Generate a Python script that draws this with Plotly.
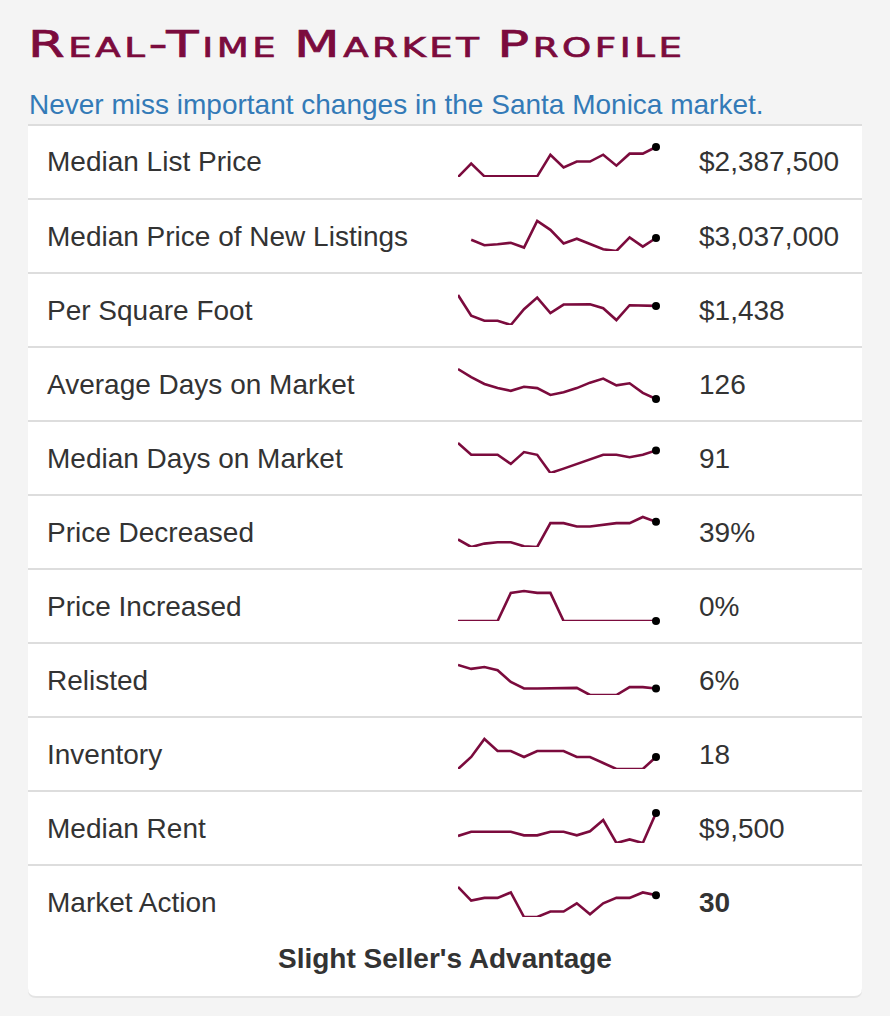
import plotly.graph_objects as go

W, H = 890, 1016

metrics = [
    "Median List Price",
    "Median Price of New Listings",
    "Per Square Foot",
    "Average Days on Market",
    "Median Days on Market",
    "Price Decreased",
    "Price Increased",
    "Relisted",
    "Inventory",
    "Median Rent",
    "Market Action",
]
current_values = [
    "$2,387,500", "$3,037,000", "$1,438", "126", "91", "39%",
    "0%", "6%", "18", "$9,500", "<b>30</b>",
]
weeks = list(range(16))

median_list_price = [1949000, 2145000, 1959000, 1959000, 1959000, 1959000, 1959000, 2275000,
                     2089000, 2175000, 2175000, 2275000, 2115000, 2290000, 2290000, 2387500]
median_new_listings = [None, 2997000, 2869000, 2893000, 2925000, 2813000, 3437000, 3229000,
                       2909000, 3021000, 2893000, 2773000, 2733000, 3053000, 2837000, 3037000]
per_sqft = [1504, 1378, 1348, 1348, 1322, 1418, 1488, 1394, 1446, 1448, 1448, 1424, 1352, 1442, 1442, 1438]
avg_dom = [170, 158, 148, 142, 138, 144, 142, 132, 136, 142, 150, 156, 146, 149, 135, 126]
median_dom = [102, 84.5, 84.5, 84.5, 71, 88.5, 84.5, 57.5, 64, 70.5, 77.5, 84.5, 84.5, 81, 84.5, 91]
price_decreased = [26, 20.5, 23, 24, 24, 21, 20.5, 38, 38, 35.5, 35.5, 37, 38, 38, 42.5, 39]
price_increased = [0, 0, 0, 0, 3.0, 3.2, 3.0, 3.0, 0, 0, 0, 0, 0, 0, 0, 0]
relisted = [9.6, 9.0, 9.3, 8.8, 7.0, 6.0, 6, 6, 6, 6.1, 5, 5, 5, 6.2, 6.2, 6]
inventory = [16, 18, 21, 19, 19, 18, 19, 19, 19, 18, 18, 17, 16, 16, 16, 18]
median_rent = [7550, 7900, 7900, 7900, 7900, 7600, 7600, 7900, 7900, 7600, 7950, 8900, 6950, 7250, 6950, 9500]
market_action = [33, 28, 29, 29, 31, 22, 22, 24, 24, 27, 23, 27, 29, 29, 31, 30]

series = [median_list_price, median_new_listings, per_sqft, avg_dom, median_dom,
          price_decreased, price_increased, relisted, inventory, median_rent, market_action]

LINE = "#7b0b3d"
TEXT = "#333333"
FONT = "Liberation Sans, Arial, sans-serif"
BG = "#f4f4f4"
TITLE = "Real-Time Market Profile"


def px(x):
    return x / W


def py(y):
    return 1 - y / H


fig = go.Figure()
axes = {}
annotations = []

for i, (name, vals, label) in enumerate(zip(metrics, series, current_values)):
    n = i + 1
    suffix = "" if n == 1 else str(n)
    center = 162 + 74 * i
    known = [v for v in vals if v is not None]
    lo, hi = min(known), max(known)
    span = (hi - lo) or 1

    fig.add_trace(go.Scatter(
        x=weeks, y=vals, mode="lines",
        line=dict(color=LINE, width=2.6),
        xaxis="x" + suffix, yaxis="y" + suffix,
        hoverinfo="skip", showlegend=False,
    ))
    fig.add_trace(go.Scatter(
        x=[weeks[-1]], y=[vals[-1]], mode="markers",
        marker=dict(color="black", size=8),
        cliponaxis=False,
        xaxis="x" + suffix, yaxis="y" + suffix,
        hoverinfo="skip", showlegend=False,
    ))
    axes["xaxis" + suffix] = dict(domain=[px(458), px(656)], range=[0, 15],
                                  visible=False, anchor="y" + suffix, fixedrange=True)
    axes["yaxis" + suffix] = dict(domain=[py(center + 15), py(center - 17)],
                                  range=[lo, hi + span * 2 / 30],
                                  visible=False, anchor="x" + suffix, fixedrange=True)

    annotations.append(dict(text=name, x=px(45), y=py(center), xref="paper", yref="paper",
                            xanchor="left", yanchor="middle", showarrow=False,
                            font=dict(family=FONT, size=28, color=TEXT)))
    annotations.append(dict(text=label, x=px(697), y=py(center), xref="paper", yref="paper",
                            xanchor="left", yanchor="middle", showarrow=False,
                            font=dict(family=FONT, size=28, color=TEXT)))

annotations.append(dict(text="<b>Slight Seller's Advantage</b>", x=px(445), y=py(958),
                        xref="paper", yref="paper", xanchor="center", yanchor="middle",
                        showarrow=False, font=dict(family=FONT, size=28, color=TEXT)))
annotations.append(dict(text=TITLE, x=px(26), y=py(44),
                        xref="paper", yref="paper", xanchor="left", yanchor="middle",
                        align="left", showarrow=False,
                        font=dict(family="DejaVu Sans, sans-serif", size=37, color=LINE,
                                  variant="small-caps")))
annotations.append(dict(text="Never miss important changes in the Santa Monica market.",
                        x=px(27), y=py(104), xref="paper", yref="paper",
                        xanchor="left", yanchor="middle", showarrow=False,
                        font=dict(family=FONT, size=28, color="#337ab7")))

# card with rounded bottom corners
L, R, T, B, r = 28, 862, 125, 996, 8


def card_path(dy=0):
    return (f"M {px(L)},{py(T + dy)} L {px(R)},{py(T + dy)} L {px(R)},{py(B - r + dy)} "
            f"Q {px(R)},{py(B + dy)} {px(R - r)},{py(B + dy)} L {px(L + r)},{py(B + dy)} "
            f"Q {px(L)},{py(B + dy)} {px(L)},{py(B - r + dy)} Z")


shapes = [
    dict(type="path", path=card_path(2), xref="paper", yref="paper",
         fillcolor="#e4e4e4", line=dict(width=0), layer="below"),
    dict(type="path", path=card_path(0), xref="paper", yref="paper",
         fillcolor="white", line=dict(width=0), layer="below"),
    dict(type="line", x0=px(L), x1=px(R), y0=py(T), y1=py(T), xref="paper", yref="paper",
         line=dict(color="#dddddd", width=2), layer="below"),
]
for k in range(10):
    y = 199 + 74 * k
    shapes.append(dict(type="line", x0=px(L), x1=px(R), y0=py(y), y1=py(y),
                       xref="paper", yref="paper",
                       line=dict(color="#dddddd", width=2), layer="below"))

fig.update_layout(
    width=W, height=H,
    margin=dict(l=0, r=0, t=0, b=0),
    paper_bgcolor=BG,
    plot_bgcolor="rgba(0,0,0,0)",
    font=dict(family=FONT, color=TEXT),
    showlegend=False,
    annotations=annotations,
    shapes=shapes,
    **axes,
)

# page without body margin; the heading in the original uses a wide, extended face,
# so stretch the title horizontally from its left edge
post = (
    f"document.body.style.margin='0';document.body.style.background='{BG}';"
    "document.querySelectorAll('.annotation-text').forEach(function(t){"
    f"if(t.textContent==='{TITLE}'){{"
    "t.style.letterSpacing='2.5px';t.style.wordSpacing='-4px';"
    f"t.style.stroke='{LINE}';t.style.strokeWidth='0.7px';"
    "t.style.transformBox='fill-box';"
    "t.style.transformOrigin='left center';t.style.transform='scaleX(1.43)';}});"
)

fig.write_html("out.html", config={"displayModeBar": False}, post_script=post)
